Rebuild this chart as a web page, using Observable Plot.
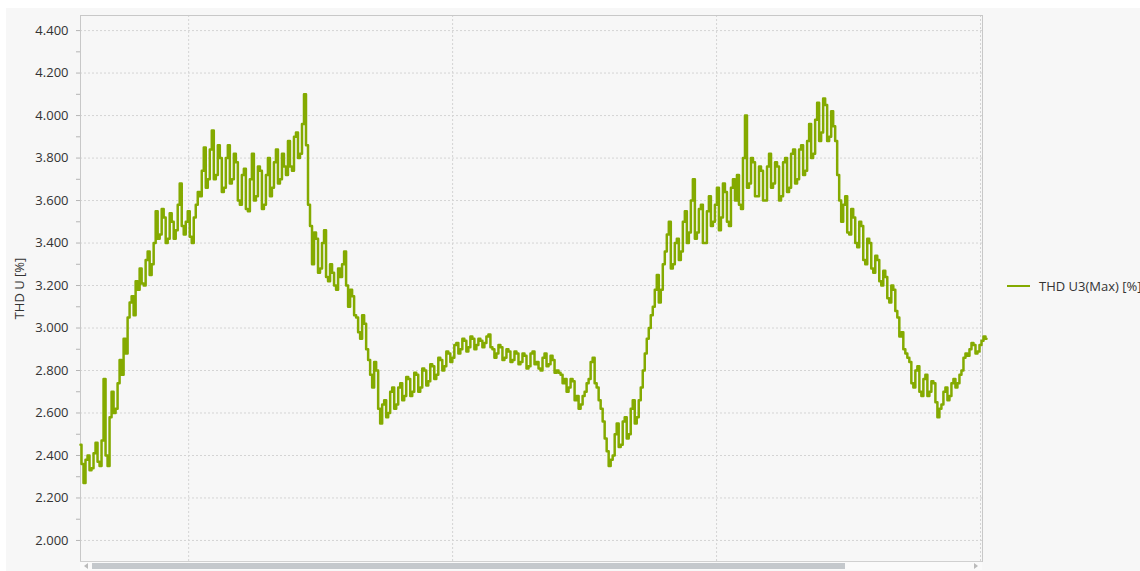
<!DOCTYPE html>
<html><head><meta charset="utf-8">
<script src="https://cdn.jsdelivr.net/npm/d3@7"></script>
<script src="https://cdn.jsdelivr.net/npm/@observablehq/plot@0.6"></script>
<style>
html,body{margin:0;padding:0;width:1140px;height:571px;overflow:hidden;background:#fff;font-family:"Open Sans",sans-serif;}
#panel{position:absolute;left:6px;top:8px;width:1134px;height:563px;background:#f7f7f7;}
#chart{position:absolute;left:0;top:0;}
#legend{position:absolute;left:1007px;top:277px;white-space:nowrap;font-size:13px;color:#333;display:flex;align-items:center;}
#legend .sw{width:23px;height:2px;background:#84aa00;margin-right:9px;}
#scroll{position:absolute;left:80px;top:561px;width:902px;height:9px;background:#fafafa;border-top:1px solid #d0d0d0;box-sizing:border-box;}
#thumb{position:absolute;left:12px;top:1px;width:753px;height:6px;background:#c4c8cc;}
.arr{position:absolute;top:1px;width:0;height:0;border-top:3px solid transparent;border-bottom:3px solid transparent;}
#al{left:4px;border-right:4px solid #bbb;}
#ar{right:4px;border-left:4px solid #bbb;}
</style></head>
<body>
<div id="panel"></div>
<div id="chart"></div>
<div id="legend"><div class="sw"></div><span>THD U3(Max) [%]</span></div>
<div id="scroll"><div class="arr" id="al"></div><div id="thumb"></div><div class="arr" id="ar"></div></div>
<script>
// THD U3 (Max) [%] readings, one every ~10.9 minutes
const thd = [
2.45,2.36,2.27,2.38,2.40,2.33,2.34,2.41,2.46,2.37,2.35,2.47,2.76,2.40,2.35,2.58,2.70,2.60,2.62,2.74,
2.85,2.78,2.95,2.88,3.05,3.12,3.15,3.06,3.22,3.18,3.28,3.21,3.20,3.32,3.36,3.25,3.30,3.40,3.55,3.42,
3.44,3.56,3.52,3.40,3.42,3.54,3.50,3.42,3.46,3.58,3.68,3.48,3.44,3.50,3.55,3.43,3.40,3.52,3.58,3.64,
3.62,3.74,3.85,3.66,3.70,3.84,3.93,3.70,3.72,3.86,3.80,3.64,3.66,3.80,3.86,3.68,3.70,3.82,3.78,3.60,
3.58,3.72,3.75,3.56,3.55,3.70,3.82,3.60,3.62,3.76,3.74,3.56,3.58,3.72,3.80,3.62,3.66,3.78,3.84,3.68,
3.70,3.82,3.76,3.72,3.88,3.76,3.74,3.90,3.92,3.80,3.82,3.96,4.10,3.86,3.58,3.48,3.30,3.45,3.42,3.26,
3.28,3.40,3.46,3.24,3.22,3.30,3.26,3.20,3.18,3.28,3.24,3.30,3.36,3.20,3.10,3.18,3.15,3.06,3.05,2.98,
2.95,3.06,3.02,2.90,2.85,2.78,2.72,2.84,2.80,2.62,2.55,2.64,2.66,2.58,2.60,2.70,2.72,2.62,2.64,2.72,
2.74,2.66,2.68,2.77,2.76,2.68,2.70,2.79,2.78,2.70,2.72,2.81,2.80,2.73,2.75,2.83,2.82,2.76,2.78,2.86,
2.85,2.80,2.82,2.89,2.88,2.84,2.86,2.92,2.93,2.88,2.90,2.95,2.94,2.89,2.91,2.96,2.95,2.90,2.92,2.95,
2.94,2.91,2.93,2.96,2.97,2.91,2.90,2.86,2.88,2.92,2.91,2.85,2.86,2.90,2.89,2.84,2.85,2.89,2.88,2.83,
2.84,2.88,2.87,2.81,2.82,2.88,2.89,2.83,2.84,2.81,2.80,2.86,2.88,2.82,2.83,2.87,2.85,2.79,2.80,2.79,
2.78,2.74,2.76,2.70,2.72,2.76,2.75,2.66,2.68,2.62,2.64,2.68,2.70,2.74,2.76,2.84,2.86,2.74,2.72,2.66,
2.62,2.56,2.48,2.42,2.35,2.38,2.40,2.50,2.55,2.44,2.45,2.56,2.58,2.48,2.50,2.62,2.66,2.55,2.58,2.66,
2.72,2.80,2.88,2.95,3.00,3.06,3.10,3.18,3.25,3.12,3.18,3.30,3.36,3.44,3.50,3.28,3.30,3.40,3.42,3.32,
3.36,3.50,3.55,3.40,3.45,3.60,3.70,3.42,3.45,3.56,3.58,3.40,3.40,3.55,3.62,3.48,3.50,3.58,3.66,3.46,
3.52,3.68,3.64,3.50,3.48,3.66,3.70,3.60,3.72,3.58,3.56,3.80,4.00,3.66,3.68,3.80,3.78,3.62,3.62,3.76,
3.74,3.60,3.60,3.76,3.82,3.66,3.68,3.78,3.76,3.60,3.62,3.78,3.80,3.64,3.66,3.82,3.84,3.68,3.70,3.84,
3.86,3.72,3.74,3.88,3.96,3.80,3.82,3.98,4.06,3.88,3.92,4.08,4.05,3.88,3.90,4.02,3.95,3.88,3.72,3.60,
3.50,3.58,3.62,3.45,3.44,3.56,3.52,3.40,3.38,3.50,3.48,3.32,3.30,3.42,3.40,3.28,3.26,3.34,3.32,3.22,
3.20,3.27,3.24,3.14,3.12,3.20,3.18,3.08,3.05,2.96,2.98,2.90,2.88,2.86,2.84,2.74,2.72,2.80,2.82,2.70,
2.68,2.76,2.78,2.68,2.70,2.75,2.74,2.65,2.58,2.62,2.64,2.70,2.72,2.66,2.68,2.74,2.76,2.72,2.74,2.78,
2.80,2.86,2.88,2.87,2.90,2.93,2.92,2.88,2.89,2.92,2.94,2.96,2.95
];
const sampleMinutes = 10.935;
const startTime = new Date(2021, 5, 7, 14, 10);
const yTicks = [2.0, 2.2, 2.4, 2.6, 2.8, 3.0, 3.2, 3.4, 3.6, 3.8, 4.0, 4.2, 4.4];
const yMinorTicks = [2.1, 2.3, 2.5, 2.7, 2.9, 3.1, 3.3, 3.5, 3.7, 3.9, 4.1, 4.3];
const yDomain = [1.901, 4.471];
const seriesName = "THD U3(Max) [%]";
const yLabel = "THD U [%]";
const lineColor = "#84aa00";

const data = thd.map((v, i) => ({time: new Date(startTime.getTime() + i * sampleMinutes * 60000), value: v}));
const endTime = new Date(startTime.getTime() + 450 * sampleMinutes * 60000);
const midnights = d3.timeDay.range(startTime, endTime);

const chart = Plot.plot({
  width: 1140, height: 561,
  marginLeft: 80, marginRight: 158, marginTop: 15, marginBottom: 0,
  style: {background: "transparent", fontFamily: "'Open Sans', sans-serif", fontSize: "13px", color: "#333", overflow: "visible"},
  x: {type: "time", domain: [startTime, endTime], axis: null},
  y: {domain: yDomain, axis: null},
  marks: [
    Plot.gridY(yTicks, {stroke: "#d4d4d4", strokeOpacity: 1, strokeDasharray: "2,2"}),
    Plot.gridX(midnights, {stroke: "#d4d4d4", strokeOpacity: 1, strokeDasharray: "2,2"}),
    Plot.frame({stroke: "#c8c8c8"}),
    Plot.axisY(yMinorTicks, {tickSize: 4, tickFormat: () => "", stroke: "#b5b5b5", label: null}),
    Plot.axisY(yTicks, {tickSize: 4, tickPadding: 8, tickFormat: d3.format(".3f"), stroke: "#b5b5b5", fill: "#333",
      label: yLabel, labelAnchor: "center", labelOffset: 66, labelArrow: "none"}),
    Plot.lineY(data, {x: "time", y: "value", stroke: lineColor, strokeWidth: 2.5, curve: "step"})
  ]
});
document.getElementById("chart").appendChild(chart);
document.querySelector("#legend span").textContent = seriesName;
</script>
</body></html>
